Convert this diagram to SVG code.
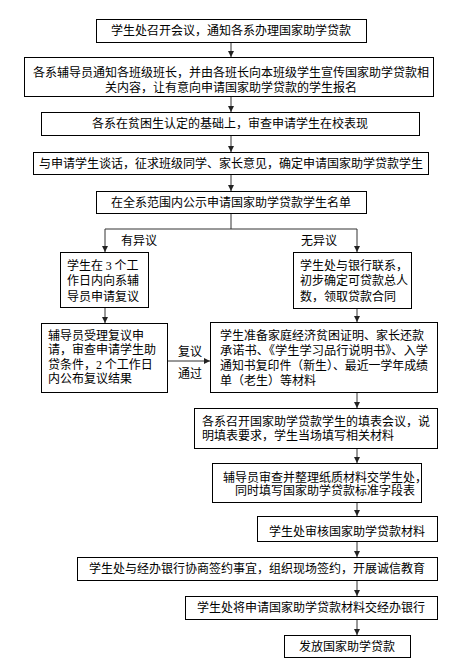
<svg xmlns="http://www.w3.org/2000/svg" width="458" height="668" viewBox="0 0 458 668">
<defs>
<style>
.b{fill:#fff;stroke:#000;stroke-width:1}
.t{font-family:"Noto Sans CJK SC","Noto Sans CJK JP",sans-serif;font-size:12px;fill:#000}
.m{text-anchor:middle}
.n{font-family:"Liberation Serif",serif}
.c{fill:none;stroke:#333;stroke-width:1}
</style>
<marker id="a" markerUnits="userSpaceOnUse" markerWidth="6" markerHeight="6" viewBox="0 0 6 6" refX="6" refY="3" orient="auto">
<path d="M0,0 L6,3 L0,6 Z" fill="#222"/>
</marker>
</defs>
<rect width="458" height="668" fill="#fff"/>
<g id="connectors">
<line class="c" x1="231" y1="42" x2="231" y2="57" marker-end="url(#a)"/>
<line class="c" x1="231" y1="97" x2="231" y2="112" marker-end="url(#a)"/>
<line class="c" x1="231" y1="135" x2="231" y2="152" marker-end="url(#a)"/>
<line class="c" x1="231" y1="174" x2="231" y2="191" marker-end="url(#a)"/>
<polyline class="c" points="231,213 231,229"/>
<polyline class="c" points="105,229 357,229"/>
<line class="c" x1="105" y1="229" x2="105" y2="252" marker-end="url(#a)"/>
<line class="c" x1="357" y1="229" x2="357" y2="252" marker-end="url(#a)"/>
<line class="c" x1="105" y1="307" x2="105" y2="323" marker-end="url(#a)"/>
<line class="c" x1="357" y1="308" x2="357" y2="322" marker-end="url(#a)"/>
<line class="c" x1="167" y1="361" x2="210" y2="361" marker-end="url(#a)"/>
<line class="c" x1="357" y1="392" x2="357" y2="408" marker-end="url(#a)"/>
<line class="c" x1="357" y1="448" x2="357" y2="463" marker-end="url(#a)"/>
<line class="c" x1="357" y1="502" x2="357" y2="516" marker-end="url(#a)"/>
<line class="c" x1="357" y1="541" x2="357" y2="557" marker-end="url(#a)"/>
<line class="c" x1="357" y1="580" x2="357" y2="596" marker-end="url(#a)"/>
<line class="c" x1="357" y1="619" x2="357" y2="635" marker-end="url(#a)"/>
<text class="t" x="121" y="244.5">有异议</text>
<text class="t" x="301" y="244.5">无异议</text>
<text class="t" x="178" y="355.5">复议</text>
<text class="t" x="178" y="377.5">通过</text>
</g>
<g id="n1"><rect class="b" x="96.5" y="19.5" width="270" height="23"/><text class="t m" x="231" y="35">学生处召开会议，通知各系办理国家助学贷款</text></g>
<g id="n2"><rect class="b" x="24.5" y="57.5" width="409" height="39"/><text class="t m" x="231" y="76.5">各系辅导员通知各班级班长，并由各班长向本班级学生宣传国家助学贷款相</text><text class="t m" x="231" y="91.5">关内容，让有意向申请国家助学贷款的学生报名</text></g>
<g id="n3"><rect class="b" x="41.5" y="112.5" width="378" height="23"/><text class="t m" x="230" y="128">各系在贫困生认定的基础上，审查申请学生在校表现</text></g>
<g id="n4"><rect class="b" x="33.5" y="152.5" width="395" height="22"/><text class="t m" x="231" y="167.5">与申请学生谈话，征求班级同学、家长意见，确定申请国家助学贷款学生</text></g>
<g id="n5"><rect class="b" x="96.5" y="191.5" width="270" height="22"/><text class="t m" x="231" y="206.5">在全系范围内公示申请国家助学贷款学生名单</text></g>
<g id="n6"><rect class="b" x="60.5" y="252.5" width="88" height="55"/><text class="t" x="67" y="269.5">学生在 <tspan class="n">3</tspan> 个工</text><text class="t" x="67" y="285">作日内向系辅</text><text class="t" x="67" y="300.5">导员申请复议</text></g>
<g id="n7"><rect class="b" x="293.5" y="252.5" width="118" height="56"/><text class="t" x="300" y="269.5">学生处与银行联系，</text><text class="t" x="300" y="285">初步确定可贷款总人</text><text class="t" x="300" y="300.5">数，领取贷款合同</text></g>
<g id="n8"><rect class="b" x="41.5" y="323.5" width="126" height="69"/><text class="t" x="48" y="339.5">辅导员受理复议申</text><text class="t" x="48" y="354">请，审查申请学生助</text><text class="t" x="48" y="368.5">贷条件，<tspan class="n">2</tspan> 个工作日</text><text class="t" x="48" y="383">内公布复议结果</text></g>
<g id="n9"><rect class="b" x="210.5" y="322.5" width="227" height="70"/><text class="t" x="220" y="339.5">学生准备家庭经济贫困证明、家长还款</text><text class="t" x="220" y="354.5" textLength="208" lengthAdjust="spacingAndGlyphs">承诺书、《学生学习品行说明书》、入学</text><text class="t" x="220" y="369.5" textLength="208" lengthAdjust="spacingAndGlyphs">通知书复印件（新生）、最近一学年成绩</text><text class="t" x="220" y="384.5">单（老生）等材料</text></g>
<g id="n10"><rect class="b" x="194.5" y="408.5" width="243" height="40"/><text class="t" x="202" y="426">各系召开国家助学贷款学生的填表会议，说</text><text class="t" x="202" y="439.5">明填表要求，学生当场填写相关材料</text></g>
<g id="n11"><rect class="b" x="212.5" y="463.5" width="209" height="39"/><text class="t" x="223" y="481.5">辅导员审查并整理纸质材料交学生处，</text><text class="t" x="235" y="494.5">同时填写国家助学贷款标准字段表</text></g>
<g id="n12"><rect class="b" x="257.5" y="516.5" width="180" height="25"/><text class="t m" x="347" y="535.5">学生处审核国家助学贷款材料</text></g>
<g id="n13"><rect class="b" x="77.5" y="557.5" width="360" height="23"/><text class="t m" x="257" y="572.5">学生处与经办银行协商签约事宜，组织现场签约，开展诚信教育</text></g>
<g id="n14"><rect class="b" x="185.5" y="596.5" width="252" height="23"/><text class="t m" x="311" y="611.5">学生处将申请国家助学贷款材料交经办银行</text></g>
<g id="n15"><rect class="b" x="284.5" y="635.5" width="126" height="22"/><text class="t m" x="347" y="650.5">发放国家助学贷款</text></g>
</svg>
